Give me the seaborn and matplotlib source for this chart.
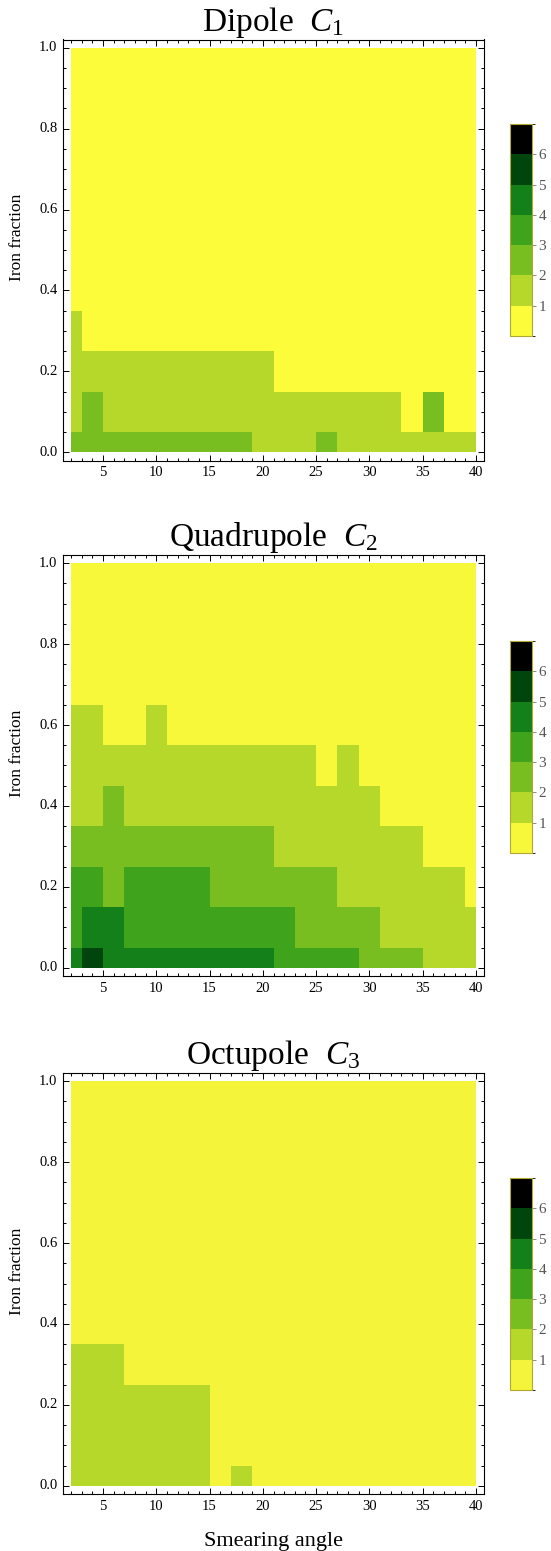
import numpy as np
import pandas as pd
import matplotlib
matplotlib.use('Agg')
import matplotlib.pyplot as plt
from matplotlib.colors import ListedColormap, BoundaryNorm
from matplotlib.patches import Rectangle
from matplotlib.ticker import FixedLocator
import seaborn as sns

# ============================================================
# data: level of each cell (0 = yellow ... 6 = black)
# rows = iron fraction 0.0 .. 1.0, columns = smearing angle 2 .. 40
# ============================================================

angles = list(range(2, 41, 2))
iron_fraction = [round(0.1 * i, 1) for i in range(11)]

dipole = [
    [2, 2, 2, 2, 2, 2, 2, 2, 2, 1, 1, 1, 2, 1, 1, 1, 1, 1, 1, 1],
    [1, 2, 1, 1, 1, 1, 1, 1, 1, 1, 1, 1, 1, 1, 1, 1, 0, 2, 0, 0],
    [1, 1, 1, 1, 1, 1, 1, 1, 1, 1, 0, 0, 0, 0, 0, 0, 0, 0, 0, 0],
    [1, 0, 0, 0, 0, 0, 0, 0, 0, 0, 0, 0, 0, 0, 0, 0, 0, 0, 0, 0],
] + [[0] * 20 for _ in range(7)]

quadrupole = [
    [4, 5, 4, 4, 4, 4, 4, 4, 4, 4, 3, 3, 3, 3, 2, 2, 2, 1, 1, 1],
    [3, 4, 4, 3, 3, 3, 3, 3, 3, 3, 3, 2, 2, 2, 2, 1, 1, 1, 1, 1],
    [3, 3, 2, 3, 3, 3, 3, 2, 2, 2, 2, 2, 2, 1, 1, 1, 1, 1, 1, 0],
    [2, 2, 2, 2, 2, 2, 2, 2, 2, 2, 1, 1, 1, 1, 1, 1, 1, 0, 0, 0],
    [1, 1, 2, 1, 1, 1, 1, 1, 1, 1, 1, 1, 1, 1, 1, 0, 0, 0, 0, 0],
    [1, 1, 1, 1, 1, 1, 1, 1, 1, 1, 1, 1, 0, 1, 0, 0, 0, 0, 0, 0],
    [1, 1, 0, 0, 1, 0, 0, 0, 0, 0, 0, 0, 0, 0, 0, 0, 0, 0, 0, 0],
] + [[0] * 20 for _ in range(4)]

octupole = [
    [1, 1, 1, 1, 1, 1, 1, 0, 1, 0, 0, 0, 0, 0, 0, 0, 0, 0, 0, 0],
    [1, 1, 1, 1, 1, 1, 1, 0, 0, 0, 0, 0, 0, 0, 0, 0, 0, 0, 0, 0],
    [1, 1, 1, 1, 1, 1, 1, 0, 0, 0, 0, 0, 0, 0, 0, 0, 0, 0, 0, 0],
    [1, 1, 1, 0, 0, 0, 0, 0, 0, 0, 0, 0, 0, 0, 0, 0, 0, 0, 0, 0],
] + [[0] * 20 for _ in range(7)]

titles = ['Dipole  $C_1$', 'Quadrupole  $C_2$', 'Octupole  $C_3$']
yellows = ['#fcfc3a', '#f8f83a', '#f4f43a']
greens = ['#b5d82a', '#78be20', '#3fa31c', '#13801a', '#00450c', '#000000']

# ============================================================
# style
# ============================================================

sns.set_style('white')
plt.rcParams['font.family'] = ['Liberation Serif', 'DejaVu Serif']
plt.rcParams['mathtext.fontset'] = 'custom'
plt.rcParams['mathtext.rm'] = 'Liberation Serif'
plt.rcParams['mathtext.it'] = 'Liberation Serif:italic'
plt.rcParams['text.color'] = 'black'
plt.rcParams['axes.labelcolor'] = 'black'
plt.rcParams['xtick.color'] = 'black'
plt.rcParams['ytick.color'] = 'black'


def hx(x):
    # smearing angle -> heatmap column coordinate
    return (np.asarray(x, dtype=float) - 1) / 2


def hy(v):
    # iron fraction -> heatmap row coordinate
    return np.asarray(v, dtype=float) * 10 + 0.5


fig = plt.figure(figsize=(5.51, 15.51), dpi=100)

ax_left, ax_w, ax_h = 63 / 551, 421 / 551, 421 / 1551
ax_tops = [39.5, 555, 1073]
cb_tops = [124, 641, 1178]

for k, (grid, title) in enumerate(zip([dipole, quadrupole, octupole], titles)):
    df = pd.DataFrame(grid, index=iron_fraction, columns=angles)

    ax = fig.add_axes([ax_left, 1 - (ax_tops[k] + 421) / 1551, ax_w, ax_h])
    cax = fig.add_axes([510 / 551, 1 - (cb_tops[k] + 212) / 1551, 21.5 / 551, 212 / 1551])

    cmap = ListedColormap([yellows[k]] + greens)
    norm = BoundaryNorm(np.arange(8), cmap.N)

    sns.heatmap(df, ax=ax, cmap=cmap, norm=norm, cbar_ax=cax,
                cbar_kws={'ticks': [1, 2, 3, 4, 5, 6]})

    # clip the outer cells to the data range (half cells at the edges)
    mesh = ax.collections[0]
    mesh.set_clip_path(Rectangle((0.5, 0.5), 19, 10, transform=ax.transData))

    ax.set_xlim(hx(1.24), hx(40.76))
    ax.set_ylim(hy(-0.02), hy(1.02))

    for sp in ax.spines.values():
        sp.set_visible(True)
        sp.set_color('black')
        sp.set_linewidth(0.8)

    ax.xaxis.set_major_locator(FixedLocator(hx(np.arange(5, 41, 5))))
    ax.xaxis.set_minor_locator(FixedLocator(hx(np.arange(2, 41, 1))))
    ax.set_xticklabels([str(v) for v in range(5, 41, 5)], rotation=0)
    ax.yaxis.set_major_locator(FixedLocator(hy(np.arange(0, 1.01, 0.2))))
    ax.yaxis.set_minor_locator(FixedLocator(hy(np.arange(0, 1.01, 0.05))))
    ax.set_yticklabels(['0.0', '0.2', '0.4', '0.6', '0.8', '1.0'], rotation=0)

    ax.tick_params(which='both', direction='in', top=True, right=True,
                   bottom=True, left=True, color='black', width=0.7,
                   labelsize=10.5, labelcolor='black', pad=4)
    ax.tick_params(which='major', length=4)
    ax.tick_params(which='minor', length=2)

    ax.set_xlabel('')
    ax.set_ylabel('Iron fraction', fontsize=12.5, color='black')
    ax.yaxis.set_label_coords(-0.09, 0.53)
    ax.set_title(title, fontsize=24, pad=6, color='black')

    cbar = mesh.colorbar
    cbar.outline.set_edgecolor('#b0a830')
    cbar.outline.set_linewidth(0.8)
    cax.tick_params(length=3, width=0.6, color='#777777', labelcolor='#555555',
                    labelsize=11, pad=2)

fig.text(273 / 551, 1 - 1546 / 1551, 'Smearing angle', fontsize=16,
         ha='center', va='baseline', color='black')

fig.savefig('out.png', dpi=100)
